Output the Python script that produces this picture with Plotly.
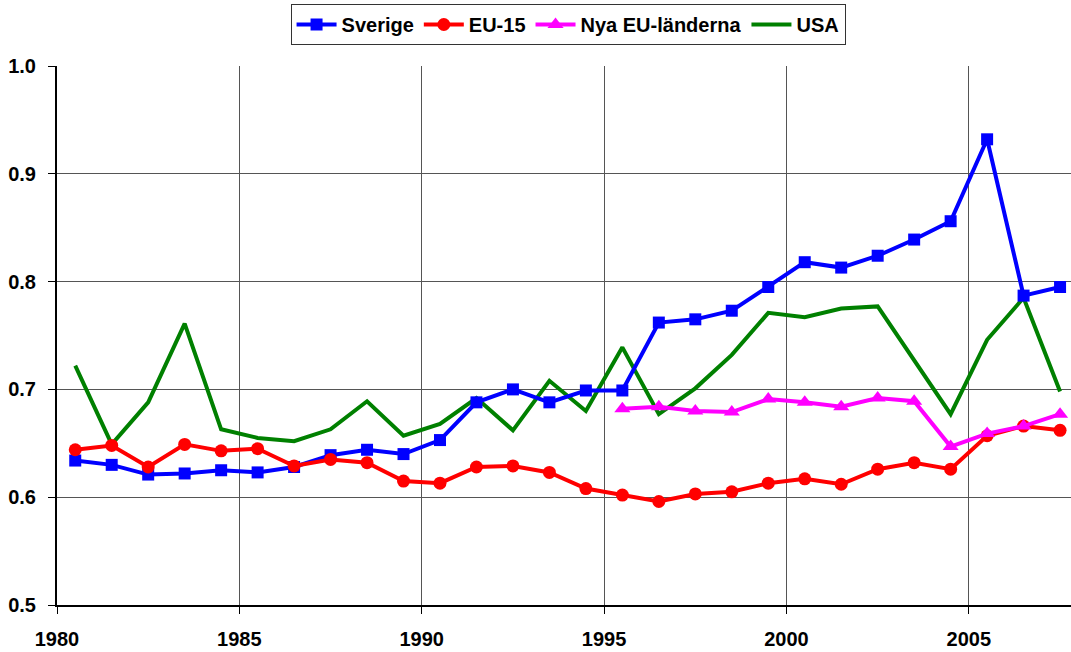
import plotly.graph_objects as go

years = list(range(1980, 2008))
x_pos = [y + 0.5 for y in years]

sverige = [0.634, 0.630, 0.621, 0.622, 0.625, 0.623, 0.628, 0.639, 0.644, 0.640,
           0.653, 0.688, 0.700, 0.688, 0.699, 0.699, 0.762, 0.765, 0.773, 0.795,
           0.818, 0.813, 0.824, 0.839, 0.856, 0.932, 0.787, 0.795]
eu15 = [0.644, 0.648, 0.628, 0.649, 0.643, 0.645, 0.629, 0.635, 0.632, 0.615,
        0.613, 0.628, 0.629, 0.623, 0.608, 0.602, 0.596, 0.603, 0.605, 0.613,
        0.617, 0.612, 0.626, 0.632, 0.626, 0.657, 0.666, 0.662]
nya_years = list(range(1995, 2008))
nya = [0.682, 0.684, 0.680, 0.679, 0.691, 0.688, 0.684, 0.692, 0.689, 0.647,
       0.659, 0.666, 0.677]
usa = [0.722, 0.649, 0.688, 0.761, 0.663, 0.655, 0.652, 0.663, 0.689, 0.657,
       0.668, 0.692, 0.662, 0.708, 0.680, 0.739, 0.677, 0.701, 0.732, 0.771,
       0.767, 0.775, 0.777, 0.727, 0.677, 0.746, 0.785, 0.698]

font_family = "Liberation Sans, Arial, sans-serif"
fsize = 20

fig = go.Figure()
fig.add_trace(go.Scatter(x=x_pos, y=usa, name="USA", mode="lines",
                         line=dict(color="#008000", width=4), legendrank=4))
fig.add_trace(go.Scatter(x=x_pos, y=sverige, name="Sverige", mode="lines+markers",
                         line=dict(color="#0000FF", width=4),
                         marker=dict(symbol="square", size=12, color="#0000FF"),
                         legendrank=1))
fig.add_trace(go.Scatter(x=x_pos, y=eu15, name="EU-15", mode="lines+markers",
                         line=dict(color="#FF0000", width=4),
                         marker=dict(symbol="circle", size=13, color="#FF0000"),
                         legendrank=2))
fig.add_trace(go.Scatter(x=[y + 0.5 for y in nya_years], y=nya, name="Nya EU-länderna",
                         mode="lines+markers",
                         line=dict(color="#FF00FF", width=4),
                         marker=dict(symbol="triangle-up", size=14, color="#FF00FF"),
                         legendrank=3))

fig.update_layout(
    width=1071, height=652,
    margin=dict(l=57, r=0, t=66, b=47),
    paper_bgcolor="white", plot_bgcolor="white",
    font=dict(family=font_family, size=fsize, color="black", weight="bold"),
    showlegend=True,
    legend=dict(orientation="h", x=0.504, xanchor="center",
                yref="container", y=1 - 4 / 652, yanchor="top",
                bordercolor="#333333", borderwidth=1, bgcolor="white",
                font=dict(family=font_family, size=fsize, color="black", weight="bold"),
                itemwidth=40, tracegroupgap=0),
)
fig.update_xaxes(range=[1980, 2007.8], tick0=1980, dtick=5, showgrid=True,
                 gridcolor="#555555", gridwidth=1, showline=True, linecolor="black",
                 linewidth=2, ticks="outside", ticklen=7, tickcolor="black",
                 ticklabelstandoff=8, zeroline=False,
                 tickfont=dict(family=font_family, size=fsize, color="black", weight="bold"))
fig.update_yaxes(range=[0.5, 1.0], tick0=0.5, dtick=0.1, tickformat=".1f",
                 showgrid=True, gridcolor="#555555", gridwidth=1, showline=True,
                 linecolor="black", linewidth=2, ticks="outside", ticklen=7,
                 tickcolor="black", ticklabelstandoff=8, zeroline=False,
                 tickfont=dict(family=font_family, size=fsize, color="black", weight="bold"))

fig.write_html("out.html", config={"displayModeBar": False},
               post_script="document.body.style.margin='0';document.body.style.padding='0';")
